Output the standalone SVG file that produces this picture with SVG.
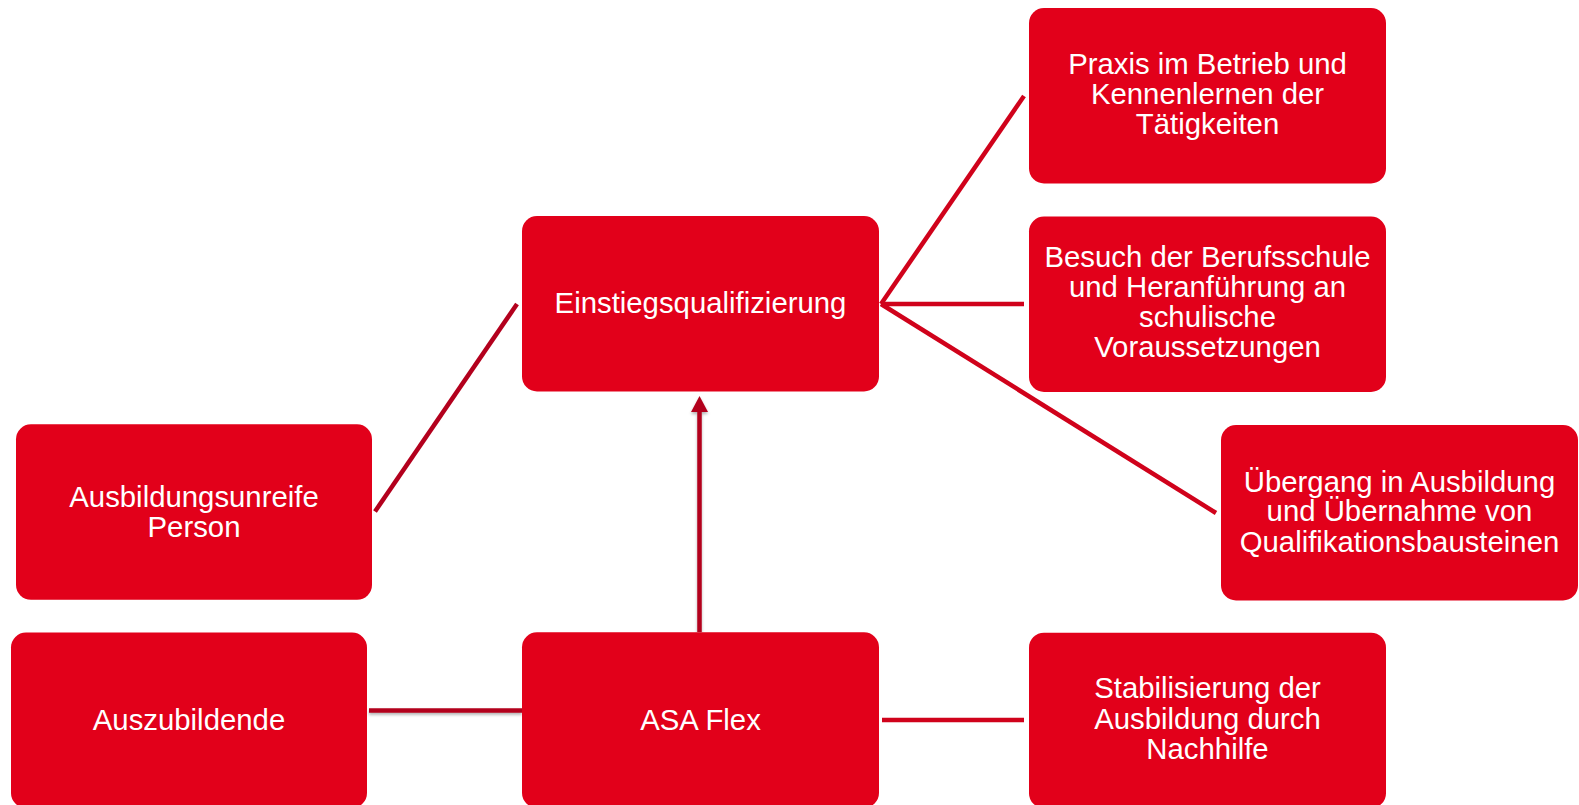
<svg xmlns="http://www.w3.org/2000/svg" width="1579" height="805" viewBox="0 0 1579 805">
<style>
.box{fill:#e2001a}
.t{font-family:"Liberation Sans",Arial,sans-serif;font-size:29.33px;fill:#ffffff;text-anchor:middle}
.fan{stroke:#d0021b;stroke-width:4.5;fill:none}
.dark{stroke:#b3001d;stroke-width:4.5;fill:none}
</style>
<defs>
<filter id="sh" filterUnits="userSpaceOnUse" x="0" y="0" width="1579" height="805">
<feDropShadow dx="0" dy="2" stdDeviation="1.5" flood-color="#000" flood-opacity="0.3"/>
</filter>
</defs>
<g id="connectors">
<line class="dark" x1="375" y1="511.5" x2="517" y2="304"/>
<line class="fan" x1="881" y1="304" x2="1024" y2="96"/>
<line class="fan" x1="881" y1="304" x2="1024" y2="304"/>
<line class="fan" x1="881" y1="304" x2="1216" y2="513"/>
<line class="dark" x1="369" y1="710.5" x2="522" y2="710.5" filter="url(#sh)"/>
<line class="fan" x1="882" y1="720" x2="1024" y2="720"/>
<g filter="url(#sh)">
<line class="dark" x1="699.5" y1="632" x2="699.5" y2="410" stroke-width="5"/>
<polygon points="699.5,396 708,412 691,412" fill="#b3001d"/>
</g>
</g>
<g id="n-praxis">
<rect class="box" x="1029" y="8" width="357" height="175.5" rx="15"/>
<text class="t" x="1207.5" y="74">Praxis im Betrieb und</text>
<text class="t" x="1207.5" y="104">Kennenlernen der</text>
<text class="t" x="1207.5" y="134">Tätigkeiten</text>
</g>
<g id="n-einstieg">
<rect class="box" x="522" y="216" width="357" height="175.5" rx="15"/>
<text class="t" x="700.5" y="313.3">Einstiegsqualifizierung</text>
</g>
<g id="n-besuch">
<rect class="box" x="1029" y="216.5" width="357" height="175.5" rx="15"/>
<text class="t" x="1207.5" y="266.7">Besuch der Berufsschule</text>
<text class="t" x="1207.5" y="296.7">und Heranführung an</text>
<text class="t" x="1207.5" y="326.7">schulische</text>
<text class="t" x="1207.5" y="357">Voraussetzungen</text>
</g>
<g id="n-uebergang">
<rect class="box" x="1221" y="425" width="357" height="175.5" rx="15"/>
<text class="t" x="1399.5" y="491.7">Übergang in Ausbildung</text>
<text class="t" x="1399.5" y="521">und Übernahme von</text>
<text class="t" x="1399.5" y="551.5">Qualifikationsbausteinen</text>
</g>
<g id="n-unreife">
<rect class="box" x="16" y="424.3" width="356" height="175.5" rx="15"/>
<text class="t" x="194" y="506.7">Ausbildungsunreife</text>
<text class="t" x="194" y="536.7">Person</text>
</g>
<g id="n-azubi">
<rect class="box" x="11" y="632.5" width="356" height="175.5" rx="15"/>
<text class="t" x="189" y="730">Auszubildende</text>
</g>
<g id="n-asa">
<rect class="box" x="522" y="632.3" width="357" height="175.5" rx="15"/>
<text class="t" x="700.5" y="730">ASA Flex</text>
</g>
<g id="n-stab">
<rect class="box" x="1029" y="632.7" width="357" height="175.5" rx="15"/>
<text class="t" x="1207.5" y="698.3">Stabilisierung der</text>
<text class="t" x="1207.5" y="729">Ausbildung durch</text>
<text class="t" x="1207.5" y="759.3">Nachhilfe</text>
</g>
</svg>
